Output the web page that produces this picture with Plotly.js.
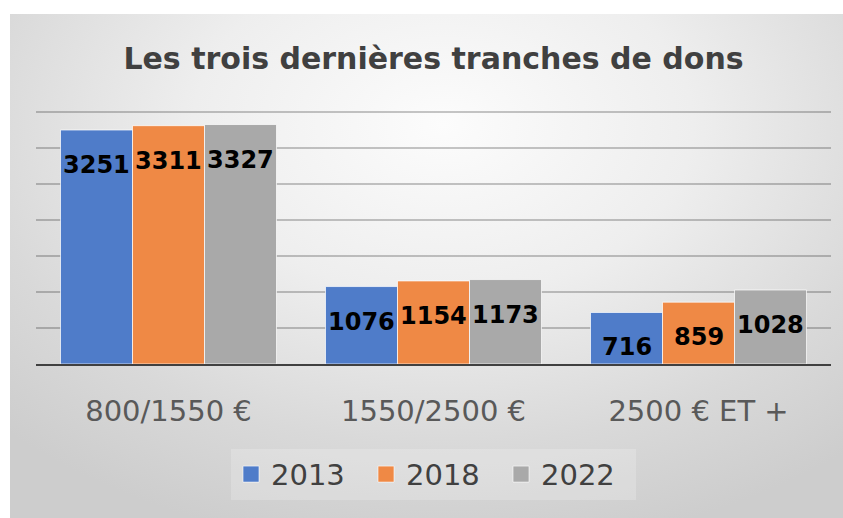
<!DOCTYPE html>
<html>
<head>
<meta charset="utf-8">
<script src="https://cdn.plot.ly/plotly-3.0.1.min.js"></script>
<style>
  html, body { margin:0; padding:0; background:#ffffff; }
  #bg { position:absolute; left:10px; top:14px; width:833px; height:504px;
        background: radial-gradient(ellipse 75% 85% at 52% 22%, #fcfcfc 0%, #eeeeee 40%, #d9d9d9 75%, #cdcdcd 100%); }
  #chart { position:absolute; left:0; top:0; width:843px; height:518px; }
</style>
</head>
<body>
<div id="bg"></div>
<div id="chart"></div>
<script>
const categories = ["800/1550 €", "1550/2500 €", "2500 € ET +"];
const seriesNames = ["2013", "2018", "2022"];
const values2013 = [3251, 1076, 716];
const values2018 = [3311, 1154, 859];
const values2022 = [3327, 1173, 1028];
const colors = ["#4f7cc9", "#ef8945", "#a9a9a9"];

const allValues = [values2013, values2018, values2022];
const bargap = 0.185;
const barW = (1 - bargap) / 3;

const traces = [];
allValues.forEach((vals, j) => {
  traces.push({
    type: "bar",
    name: seriesNames[j],
    x: categories,
    y: vals,
    marker: { color: colors[j], line: { color: "rgba(255,255,255,0.7)", width: 1 } },
    showlegend: false,
    hoverinfo: "skip"
  });
});
// legend entries
allValues.forEach((vals, j) => {
  traces.push({
    type: "scatter",
    mode: "markers",
    name: seriesNames[j],
    x: [null],
    y: [null],
    marker: { symbol: "square", size: 20, color: colors[j], line: { color: "rgba(255,255,255,0.6)", width: 1 } },
    showlegend: true,
    hoverinfo: "skip"
  });
});

const annotations = [];
allValues.forEach((vals, j) => {
  vals.forEach((v, i) => {
    annotations.push({
      x: i + (j - 1) * barW,
      y: v,
      xref: "x",
      yref: "y",
      text: String(v),
      showarrow: false,
      yanchor: "top",
      xanchor: "center",
      yshift: -19,
      font: { family: "DejaVu Sans", size: 24, color: "#000000", weight: "bold" }
    });
  });
});

const layout = {
  width: 843,
  height: 518,
  margin: { l: 36, r: 12, t: 111, b: 154 },
  paper_bgcolor: "rgba(0,0,0,0)",
  plot_bgcolor: "rgba(0,0,0,0)",
  barmode: "group",
  bargap: bargap,
  bargroupgap: 0,
  title: {
    text: "<b>Les trois dernières tranches de dons</b>",
    font: { family: "DejaVu Sans", size: 30, color: "#404040" },
    x: 0.5, xref: "paper",
    y: 1 - 58 / 518, yref: "container", yanchor: "middle"
  },
  xaxis: {
    type: "category",
    showline: true,
    linecolor: "#404040",
    linewidth: 2,
    ticks: "",
    tickfont: { family: "DejaVu Sans", size: 29, color: "#595959" },
    ticklabelstandoff: 20,
    fixedrange: true
  },
  yaxis: {
    range: [0, 3515],
    tick0: 0,
    dtick: 500,
    showticklabels: false,
    showgrid: true,
    gridcolor: "rgba(0,0,0,0.22)",
    gridwidth: 1.5,
    zeroline: false,
    fixedrange: true
  },
  legend: {
    orientation: "h",
    x: 0.5, xanchor: "center",
    y: -0.335, yanchor: "top",
    bgcolor: "rgba(255,255,255,0.2)",
    entrywidth: 90,
    font: { family: "DejaVu Sans", size: 29, color: "#404040" },
    itemclick: false,
    itemdoubleclick: false
  },
  annotations: annotations,
  showlegend: true
};

Plotly.newPlot("chart", traces, layout, { displayModeBar: false, staticPlot: true });
</script>
</body>
</html>
